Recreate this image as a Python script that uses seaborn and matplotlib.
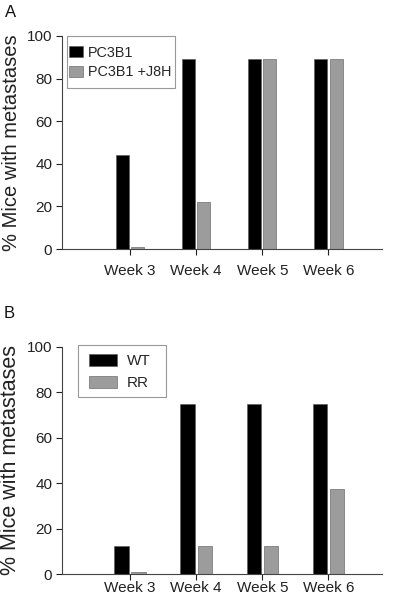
import matplotlib
matplotlib.use("Agg")
import matplotlib.pyplot as plt
from matplotlib.patches import Rectangle
import seaborn as sns
import pandas as pd

sns.set_style("white")
plt.rcParams['font.family'] = ['Liberation Sans', 'DejaVu Sans']

weeks = ["Week 3", "Week 4", "Week 5", "Week 6"]
a_series = ["PC3B1", "PC3B1 +J8H"]
a_pc3b1 = [44, 89, 89, 89]
a_j8h = [1, 22, 89, 89]
b_series = ["WT", "RR"]
b_wt = [12.5, 75, 75, 75]
b_rr = [1, 12.5, 12.5, 37.5]
yticks = [0, 20, 40, 60, 80, 100]

palette_colors = ["#000000", "#9c9c9c"]

def make_df(s1, v1, s2, v2):
    return pd.DataFrame({
        "week": weeks + weeks,
        "group": [s1] * len(weeks) + [s2] * len(weeks),
        "value": list(v1) + list(v2),
    })

df_a = make_df(a_series[0], a_pc3b1, a_series[1], a_j8h)
df_b = make_df(b_series[0], b_wt, b_series[1], b_rr)

fig = plt.figure(figsize=(4.0, 6.06), dpi=100)
ax_a = fig.add_axes([0.155, 0.589, 0.80, 0.3516])
ax_b = fig.add_axes([0.155, 0.0523, 0.80, 0.3756])

def draw(ax, df, series, width, gap, xpad, ylabel_fs, leg):
    sns.barplot(data=df, x="week", y="value", hue="group", hue_order=series,
                palette=dict(zip(series, palette_colors)), width=width, gap=gap,
                edgecolor="#555555", linewidth=0.4, ax=ax, errorbar=None)
    ax.set_xlim(-1.03, 3.81)
    ax.set_ylim(0, 100)
    ax.set_yticks(yticks)
    ax.set_yticklabels([str(t) for t in yticks], fontsize=11, color="#222222")
    ax.tick_params(axis="x", labelsize=11, colors="#222222", length=4, width=0.8,
                   direction="out", pad=xpad)
    ax.tick_params(axis="y", length=4, width=0.8, direction="out", pad=3, colors="#222222")
    ax.tick_params(bottom=True, left=True)
    ax.set_xlabel("")
    ax.set_ylabel("% Mice with metastases", fontsize=ylabel_fs, color="#222222", labelpad=4)
    for s in ["top", "right"]:
        ax.spines[s].set_visible(False)
    for s in ["left", "bottom"]:
        ax.spines[s].set_color("#444444")
        ax.spines[s].set_linewidth(0.8)
    # legend box
    bx0, bx1, by0, by1 = leg["box"]
    ax.add_patch(Rectangle((bx0, by0), bx1 - bx0, by1 - by0, transform=ax.transAxes,
                           facecolor="white", edgecolor="#999999", linewidth=0.8,
                           zorder=5, clip_on=False))
    lg = ax.legend(loc="upper left", bbox_to_anchor=leg["anchor"], fontsize=leg["fs"],
                   frameon=False, handlelength=leg["hl"], handleheight=leg["hh"],
                   handletextpad=leg["htp"], borderpad=0, labelspacing=leg["ls"],
                   borderaxespad=0)
    lg.set_zorder(6)
    lg.set_title(None)

draw(ax_a, df_a, a_series, 0.46, 0.14, 7, 14.5,
     dict(box=(0.0156, 0.353, 0.756, 1.0), anchor=(0.022, 0.955), fs=10.4,
          hl=0.97, hh=0.83, htp=0.35, ls=0.4))
draw(ax_b, df_b, b_series, 0.52, 0.16, 0.5, 15.5,
     dict(box=(0.05, 0.325, 0.779, 1.0075), anchor=(0.084, 0.97), fs=11,
          hl=1.83, hh=0.85, htp=0.65, ls=0.5))

fig.text(0.012, 0.992, "A", fontsize=12, ha="left", va="top", color="#111111")
fig.text(0.01, 0.495, "B", fontsize=12, ha="left", va="top", color="#111111")

fig.savefig("out.png", dpi=100)
